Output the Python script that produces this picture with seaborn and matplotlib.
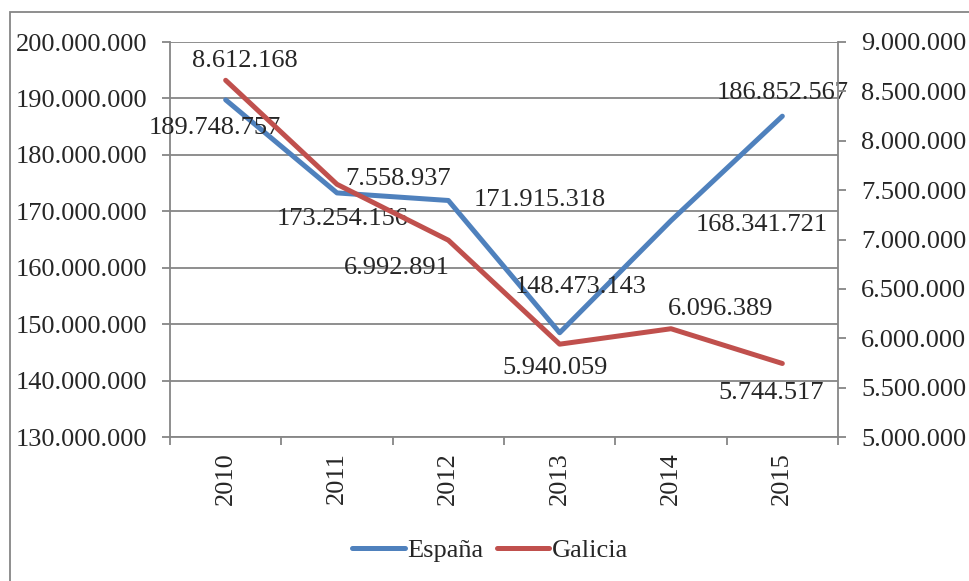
import matplotlib
matplotlib.use("Agg")
import matplotlib.pyplot as plt
import seaborn as sns
import pandas as pd
from matplotlib.ticker import FuncFormatter, FixedLocator
from matplotlib.patches import Rectangle

years = ["2010", "2011", "2012", "2013", "2014", "2015"]
espana = [189748757, 173254156, 171915318, 148473143, 168341721, 186852567]
galicia = [8612168, 7558937, 6992891, 5940059, 6096389, 5744517]

# label offsets (points) for each data label, Excel-like placement
esp_offsets = [(-8, -20), (4, -19), (66, 0), (15, 33), (65, -3), (0, 17)]
gal_offsets = [(14, 14), (44, 4), (-37, -20), (-3, -17), (36, 14), (-8, -21)]

df = pd.DataFrame({"year": years, "España": espana, "Galicia": galicia})

sns.set_style("white")
plt.rcParams["font.family"] = ["Liberation Serif", "DejaVu Serif"]
fs = 19
grey = "#868686"
blue = "#4F81BD"
red = "#C0504D"

fig = plt.figure(figsize=(9.69, 5.81), dpi=100)
ax = fig.add_axes([170 / 969, 1 - 437 / 581, 668 / 969, 395 / 581])
ax2 = ax.twinx()

sns.lineplot(data=df, x="year", y="España", ax=ax, color=blue, lw=3.6,
             sort=False, label="España", legend=False)
sns.lineplot(data=df, x="year", y="Galicia", ax=ax2, color=red, lw=3.6,
             sort=False, label="Galicia", legend=False)

fmt = FuncFormatter(lambda v, p: f"{v:,.0f}".replace(",", "."))

ax.set_xlim(-0.5, 5.5)
ax.set_ylim(130e6, 200e6)
ax.set_yticks([130e6 + i * 10e6 for i in range(8)])
ax.yaxis.set_major_formatter(fmt)
ax2.set_ylim(5e6, 9e6)
ax2.set_yticks([5e6 + i * 0.5e6 for i in range(9)])
ax2.yaxis.set_major_formatter(fmt)

ax.set_xticks(range(len(years)))
ax.set_xticklabels(years, rotation=90)
ax.xaxis.set_minor_locator(FixedLocator([i - 0.5 for i in range(len(years) + 1)]))
ax.tick_params(axis="x", which="major", length=0, pad=11, labelsize=fs)
ax.tick_params(axis="x", which="minor", length=6, width=1.3, color=grey, direction="out", bottom=True)
ax.tick_params(axis="y", length=5.5, width=1.3, color=grey, direction="out", left=True, labelsize=fs, pad=11)
ax2.tick_params(axis="y", length=5.5, width=1.3, color=grey, direction="out", right=True, labelsize=fs, pad=11)

ax.set_xlabel("")
ax.set_ylabel("")
ax2.set_ylabel("")
ax.grid(axis="y", color=grey, lw=1.3)
ax.grid(axis="x", visible=False)
for a in (ax, ax2):
    for s in a.spines.values():
        s.set_visible(False)
ax.spines["left"].set_visible(True)
ax.spines["bottom"].set_visible(True)
ax2.spines["right"].set_visible(True)
for s in ("left", "bottom"):
    ax.spines[s].set_color(grey)
    ax.spines[s].set_linewidth(1.3)
ax2.spines["right"].set_color(grey)
ax2.spines["right"].set_linewidth(1.3)

for i, v in enumerate(espana):
    ax.annotate(fmt(v, None), (i, v), xytext=esp_offsets[i], textcoords="offset points",
                ha="center", va="center", fontsize=fs)
for i, v in enumerate(galicia):
    ax2.annotate(fmt(v, None), (i, v), xytext=gal_offsets[i], textcoords="offset points",
                 ha="center", va="center", fontsize=fs)

h1, l1 = ax.get_legend_handles_labels()
h2, l2 = ax2.get_legend_handles_labels()
fig.legend(h1 + h2, l1 + l2, loc="center", bbox_to_anchor=(490 / 969, 1 - 550 / 581),
           ncol=2, frameon=False, fontsize=fs, handlelength=2.0, handletextpad=0.1,
           columnspacing=0.5)

fig.patches.append(Rectangle((10 / 969, -0.1), 1.2, 1.1 - 12 / 581, transform=fig.transFigure,
                             fill=False, edgecolor=grey, lw=1.3))

fig.savefig("out.png", dpi=100)
